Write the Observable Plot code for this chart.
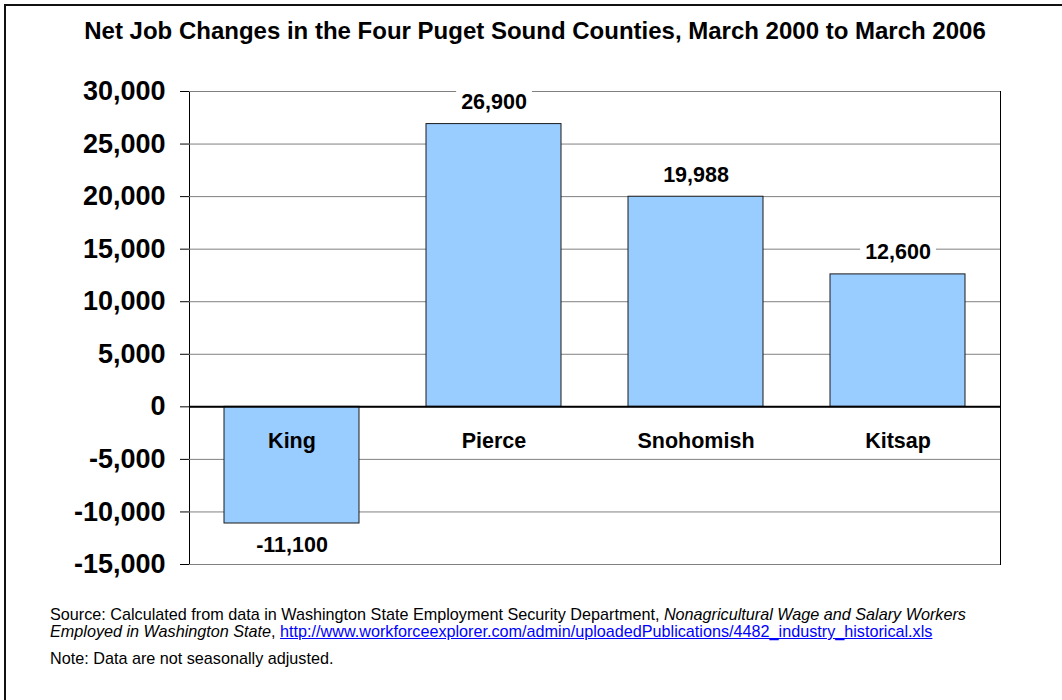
<!DOCTYPE html>
<html>
<head>
<meta charset="utf-8">
<script src="https://cdn.jsdelivr.net/npm/d3@7"></script>
<script src="https://cdn.jsdelivr.net/npm/@observablehq/plot@0.6"></script>
<style>
  html, body { margin: 0; padding: 0; background: #fff; overflow: hidden; }
  body { width: 1062px; height: 700px; position: relative; font-family: Arial, "Liberation Sans", sans-serif; }
  #border { position: absolute; left: 4px; top: 4px; width: 1200px; height: 900px; border: 2px solid #111; box-sizing: border-box; }
  #title { position: absolute; left: 0; top: 19px; width: 1070px; text-align: center; font-weight: bold; font-size: 24px; line-height: 24px; color: #000; white-space: nowrap; }
  #chart { position: absolute; left: 0; top: 0; }
  .note { position: absolute; left: 50px; font-size: 16.2px; line-height: 17px; color: #000; white-space: nowrap; }
  .note a { color: #0000ff; text-decoration: underline; }
</style>
</head>
<body>
<div id="border"></div>
<div id="chart"></div>
<div id="title">Net Job Changes in the Four Puget Sound Counties, March 2000 to March 2006</div>
<div class="note" style="top:606px">Source: Calculated from data in Washington State Employment Security Department, <i>Nonagricultural Wage and Salary Workers</i><br><i>Employed in Washington State</i>, <a href="#">http://www.workforceexplorer.com/admin/uploadedPublications/4482_industry_historical.xls</a></div>
<div class="note" style="top:650px">Note: Data are not seasonally adjusted.</div>
<script>
// Net job change per county, March 2000 to March 2006
const counties = ["King", "Pierce", "Snohomish", "Kitsap"];
const changes = [-11100, 26900, 19988, 12600];

// Value axis
const yDomain = [-15000, 30000];
const yTicks = [-15000, -10000, -5000, 0, 5000, 10000, 15000, 20000, 25000, 30000];

const fmt = d => d.toLocaleString("en-US");
const data = counties.map((county, i) => ({county, change: changes[i]}));
const gains = data.filter(d => d.change >= 0);
const losses = data.filter(d => d.change < 0);

const chart = Plot.plot({
  width: 1062,
  height: 590,
  marginTop: 91,
  marginBottom: 26,
  marginLeft: 189,
  marginRight: 62,
  style: {fontFamily: "Arial, 'Liberation Sans', sans-serif", background: "transparent", color: "#000"},
  x: {domain: counties, paddingInner: 0.334, paddingOuter: 0.167, axis: null},
  y: {domain: yDomain},
  marks: [
    Plot.frame({stroke: "#000"}),
    Plot.ruleY(yTicks, {stroke: "#808080", strokeWidth: 1}),
    Plot.barY(data, {x: "county", y: "change", fill: "#99ccff", stroke: "#1a1a1a", strokeWidth: 1}),
    Plot.ruleY([0], {stroke: "#000", strokeWidth: 2}),
    Plot.axisY({ticks: yTicks, tickFormat: fmt, tickSize: 9, tickPadding: 15, fontSize: 27, fontWeight: "bold", label: null}),
    Plot.text(data, {x: "county", y: 0, text: "county", dy: 34, fontSize: 21.5, fontWeight: "bold"}),
    Plot.text(gains, {x: "county", y: "change", text: d => fmt(d.change), dy: -22, fontSize: 21.5, fontWeight: "bold"}),
    Plot.text(losses, {x: "county", y: "change", text: d => fmt(d.change), dy: 22, fontSize: 21.5, fontWeight: "bold"})
  ]
});

document.getElementById("chart").append(chart);

// White boxes behind the value labels so the gridlines break around them
const valueLabels = new Set(changes.map(fmt));
d3.select(chart).selectAll("text").each(function() {
  if (!valueLabels.has(this.textContent)) return;
  const b = this.getBBox();
  const r = document.createElementNS("http://www.w3.org/2000/svg", "rect");
  r.setAttribute("x", b.x - 5);
  r.setAttribute("y", b.y - 1);
  r.setAttribute("width", b.width + 10);
  r.setAttribute("height", b.height + 2);
  r.setAttribute("fill", "#fff");
  const t = this.getAttribute("transform");
  if (t) r.setAttribute("transform", t);
  this.parentNode.insertBefore(r, this);
});
</script>
</body>
</html>
